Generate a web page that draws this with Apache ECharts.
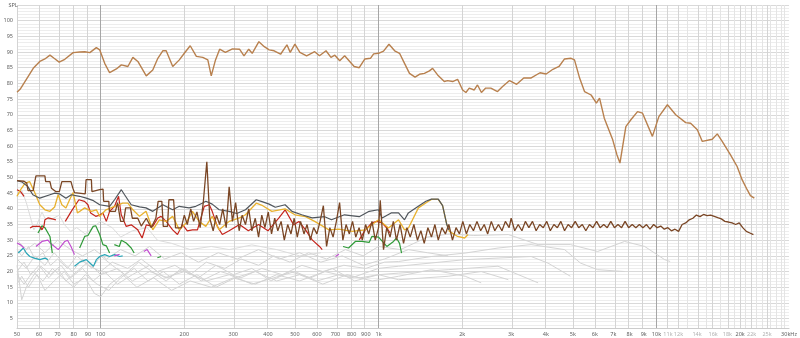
<!DOCTYPE html>
<html><head><meta charset="utf-8">
<script src="https://cdn.jsdelivr.net/npm/echarts@6/dist/echarts.min.js"></script>
<style>html,body{margin:0;padding:0;background:#fff}#c{width:800px;height:338px}</style>
</head><body><div id="c"></div><script>
// ---- axis definitions ----
const xMin = 50, xMax = 30000, yMin = 2, yMax = 105;
const xLabelFreqs = [50,60,70,80,90,100,200,300,400,500,600,700,800,900,1000,2000,3000,4000,5000,6000,7000,8000,9000,10000,11000,12000,14000,16000,18000,20000,22000,25000,30000];
const xLightLabels = [11000,12000,14000,16000,18000,22000,25000];
const xDarkGrid = [100,1000,10000];
const xMinorGrid = [13000,15000,17000,19000,21000,23000,24000,26000,27000,28000,29000];
const yLabels = [5,10,15,20,25,30,35,40,45,50,55,60,65,70,75,80,85,90,95,100];

// ---- series values: [frequency Hz, SPL dB] ----
const mainResp = [[50,77.2],[51.3,78.1],[54.1,81.4],[57.2,84.8],[60.4,87],[63,87.8],[65.7,89],[68,88],[70.9,86.8],[74.3,87.7],[79.6,89.8],[84.1,90],[87.7,90.1],[91.4,89.8],[96.5,91.4],[99.2,90.7],[103.4,86.4],[107.7,83.4],[113.9,84.6],[118.7,85.9],[125.3,85.4],[130.6,88.3],[136.1,87],[145.9,82.4],[154,84.3],[160.6,88],[167.3,90.4],[172.1,90.4],[181.7,85.4],[191.9,87.5],[200,89.6],[210,92],[221,88.6],[233,88.3],[243,87.5],[250,82.4],[259,87.5],[268,90.9],[281,89.9],[298,91],[316,90.9],[328,88.8],[341,90.9],[351,89.6],[371,93.3],[388,91.7],[404,90.7],[421,90.4],[444,89.3],[468,92.3],[481,89.9],[500,92.5],[521,89.9],[551,88.8],[589,90.1],[613,88.8],[647,90.4],[674,88.3],[696,89],[725,87.2],[755,88.8],[817,85.4],[852,85],[893,87.8],[935,88],[960,89.4],[1000,89.6],[1042,90.3],[1090,92.5],[1143,90.4],[1190,89.6],[1240,86.4],[1292,83.2],[1353,82],[1403,82.9],[1462,83.2],[1524,84],[1565,84.8],[1631,82.7],[1724,80.6],[1772,80.9],[1847,80.6],[1925,81.3],[2007,77.9],[2062,77.1],[2120,78.5],[2210,77.9],[2270,79.5],[2345,77.1],[2430,78.5],[2535,78.5],[2680,77.4],[2795,79],[2960,80.9],[3140,79.7],[3330,81.7],[3530,81.7],[3810,83.4],[4010,83],[4240,84.5],[4460,85.4],[4670,87.8],[4930,88],[5070,87.5],[5290,81.7],[5510,77.4],[5820,76.3],[6080,73.7],[6240,75.3],[6490,68.9],[6960,62],[7210,57.2],[7390,54.6],[7760,66.2],[8090,68.4],[8550,71],[8910,70.5],[9670,63.1],[10200,69.4],[10950,73.2],[11730,70],[12740,67.5],[13270,67.3],[14030,65.2],[14620,61.5],[15880,62.2],[16550,63.9],[17240,61.5],[18470,57.2],[19510,53.5],[20330,49.3],[21200,46.1],[21780,44.2],[22500,43.4]];

const brownResp = [[50,49],[53,48.8],[54.2,48.2],[54.8,45.8],[57.2,45.8],[57.8,48.2],[58.5,50.5],[63,50.5],[63.4,48.7],[65.7,48.7],[66.5,46.6],[68.9,45.5],[71,45.5],[72.5,48.7],[78.2,48.7],[79.4,46.6],[80.5,45.2],[88,44.8],[88.6,49.3],[92.6,49.3],[93,45.5],[99.2,46.1],[102,46.3],[102.5,42.4],[107,42.4],[107.5,39.2],[113,39.2],[115,42],[118,36],[121,36],[123,40.3],[128,40.3],[130,37],[136,37],[140,34.5],[146,37],[152,34],[158,37],[161,42.4],[166,42.4],[168,34.4],[174,34.4],[176,42.9],[183,42.9],[186,33.9],[195,33.9],[200,38],[205,35],[211,40],[216,36],[222,39],[228,34],[234,42],[241,55],[247,37],[254,33],[261,38],[268,35],[275,40],[283,34],[290,47],[298,36],[306,42],[315,33],[323,38],[332,35],[341,40],[350,33],[360,37],[370,31],[380,38],[390,34],[401,39],[412,32],[423,37],[434,33],[446,36],[458,30],[471,35],[484,32],[497,37],[510,31],[524,36],[539,32],[553,35],[568,30],[584,34],[600,32],[616,36],[633,41],[650,28],[668,34],[686,31],[705,36],[724,42],[744,30],[764,35],[785,32],[806,36],[828,31],[851,34],[874,30],[898,35],[922,32],[947,36],[973,30],[1000,34],[1014,42.7],[1042,27],[1070,34],[1100,31],[1130,36],[1160,30],[1195,35],[1230,29],[1265,34],[1300,31],[1340,35],[1380,30],[1420,33],[1460,29],[1505,34],[1550,31],[1595,35],[1640,30],[1690,34],[1740,32],[1790,35],[1845,30],[1900,34],[1955,32],[2010,36],[2070,32],[2130,35],[2195,33],[2260,36],[2330,33],[2400,35],[2470,32],[2545,36],[2620,33],[2700,35],[2780,33],[2860,36],[2950,34],[3000,37],[3090,33],[3180,35],[3280,33],[3375,36],[3475,34],[3580,36],[3690,33],[3800,35],[3915,34],[4030,36],[4150,33],[4275,35],[4400,34],[4530,36],[4670,33],[4810,35],[4950,34],[5100,36],[5250,34],[5410,35],[5570,33],[5740,35],[5910,34],[6090,36],[6270,34],[6460,35],[6650,34],[6850,36],[7060,34],[7270,35],[7490,34],[7710,36],[7940,34],[8180,35],[8430,34],[8680,35],[8940,34],[9210,35],[9480,33.5],[9770,35],[10060,34],[10360,34.5],[10670,33.5],[10990,34],[11320,33],[11660,33.5],[12010,32.8],[12370,35],[12740,35.5],[13120,36.5],[13520,37],[13920,38],[14340,37.5],[14770,38.2],[15210,37.8],[15670,38],[16140,37.6],[16620,37.2],[17120,36.8],[17630,36],[18160,35.8],[18710,35.5],[19270,35],[19850,35.5],[20440,34],[21050,32.8],[21680,32.3],[22330,31.8]];

const grayResp = [[50,49],[52,48.6],[54.7,47.1],[57,44.5],[60.4,43.4],[65.7,44.5],[68.3,45],[71,44.8],[75,43.4],[78.4,44.5],[84,44],[88.8,43.4],[94.2,42.6],[99.2,41.3],[107.7,40.8],[112.2,42.9],[118.7,46.1],[121.9,44.5],[128.8,41.3],[138,40.6],[145.6,40.3],[154,39.2],[167.3,41.3],[181.6,39.7],[191.8,40.8],[208,40.3],[220,40.8],[232,41.8],[239,42.4],[252,41.5],[267,39.7],[290,39.2],[309,38.5],[332,39.7],[363,42.9],[383,42.2],[404,41.5],[425,40.5],[461,41.3],[488,39.2],[529,38.1],[577,37.1],[640,37.5],[677,36.5],[754,38.1],[852,37.5],[925,39.2],[1000,39.7],[1030,37.1],[1110,38.7],[1180,38.7],[1240,36.5],[1280,38.7],[1390,40.8],[1480,42.4],[1550,43.1],[1640,43.1],[1700,41],[1760,35],[1790,33.3]];

const yellowResp = [[50,44],[51.3,45.9],[53.5,48.2],[55.5,48.7],[57.7,45.5],[60.4,41.3],[63,39.7],[65.7,39.2],[68.3,40.6],[70.3,44.5],[72.5,41.3],[75,40.3],[77.3,42.9],[79.6,45.2],[82.5,38.7],[87.6,40.3],[92.6,39.2],[96.5,39.7],[99.2,37.6],[104.5,39.7],[112.2,40.8],[120,41.8],[125.3,41.8],[130.6,39.7],[138,37.6],[145.6,39.2],[154,33.3],[162.6,36.5],[172,36],[181.6,37.6],[192,33.3],[203,35.5],[214,39.2],[226,36],[239,34.4],[252,37.6],[267,33.3],[290,36],[316,37.1],[332,38.1],[363,41.8],[383,41],[413,39.2],[461,40],[500,38.1],[546,37.5],[589,36],[663,33.3],[720,33.5],[803,32.8],[896,33.3],[1000,36.5],[1086,33.9],[1180,36.5],[1240,33.3],[1281,33.9],[1391,40.3],[1511,42.4],[1550,43],[1640,43],[1700,41],[1760,35],[1800,32.8],[1925,31.2],[2040,30.7],[2100,31.8]];

const redResp = [[50,46.1],[51.5,45.5],[53,44],[53.5,null],[55.7,33.9],[57,34.4],[60.4,34.4],[61.5,33.3],[62.5,34.5],[63,36.5],[64.6,37.1],[67.5,36.7],[69,36.5],[71,null],[74.6,36],[78.4,39.2],[83.5,42.9],[87.5,42.4],[90,41.3],[92,38.7],[96,37.6],[99.2,38],[101.9,38.7],[104.8,36],[107.7,39.2],[112.2,40.8],[116,44],[118.6,38.1],[123.6,34.4],[128.8,34.9],[136,33.3],[141,30.7],[145.9,34.9],[154,34.4],[160.6,37.1],[165,37.6],[172,36],[181.6,33.3],[189,31.8],[197,35],[205,33],[214,33.3],[223,33.3],[236,40.8],[246,41.3],[252,39.2],[263,34.4],[274,31.8],[290,33],[316,35],[340,33],[370,35],[400,33],[438,37.1],[461,39.7],[495,34.9],[517,36],[546,33.3],[577,30.1],[613,28],[627,27],[640,null],[852,30.1],[896,33.3],[946,35.5],[986,36],[1028,35.5],[1071,33.9],[1101,32.3]];

const greenResp = [[59.5,32.3],[60.4,33.3],[61.5,34.6],[63,34],[65.7,31.2],[67,25.9],[70,null],[84,27.5],[87.6,31.2],[90,31.5],[94,34.4],[96,34.6],[99.2,31.8],[101.9,28.6],[104.8,28.2],[107.7,25.9],[110,null],[112,28.6],[116.7,28],[118.7,30],[123.6,29.1],[128.8,27.5],[132,25.9],[140,null],[160,24.4],[165,24.8],[170,null],[745,28],[780,27.5],[825,29.6],[871,29.6],[925,29.3],[946,31.2],[1000,31],[1071,28],[1132,29.6],[1160,30.7],[1190,29],[1210,25.9]];

const magentaResp = [[50,29.1],[51.5,28.5],[53,27.5],[55,null],[58.5,28],[61.5,29.6],[64.6,30],[66,29],[70.4,27],[74.3,29.6],[76,30],[78.2,28],[80.5,25.4],[83,null],[112,25],[117,25.5],[120,null],[143,26.4],[147,27],[152,25],[155,null],[700,24.8],[720,25.5]];

const tealResp = [[50.5,25.9],[52.7,27.5],[54,25.9],[55.6,24.8],[57.7,24.3],[60.4,23.8],[63,24.3],[64.6,23.8],[67,null],[80.5,21.7],[84,23],[88.8,23.8],[94.2,21.7],[96.5,23.8],[99.2,24.8],[103.4,25.4],[107.7,24.8],[112.2,25.4],[117,24.8],[120,25]];

const grey1 = [[50,27],[52,25],[55,28],[58,24],[62,26],[66,22],[70,24],[76,21],[82,25],[90,22],[100,20],[110,23],[125,21],[140,24],[160,20],[185,22],[210,19],[240,23],[280,21],[320,24],[370,22],[420,25],[480,23],[560,26],[650,24],[760,27],[880,25],[1000,28],[1200,27],[1500,31],[1800,32],[2200,31.5],[2930,31.8],[3750,28.6],[4900,28.6],[6140,26.4],[7680,29.6],[9070,28],[10700,23.8],[11200,23.2]];
const grey2 = [[50,20],[53,23],[56,19],[60,22],[65,18],[70,21],[75,17],[82,20],[90,23],[100,19],[115,21],[130,17],[150,20],[175,18],[200,21],[230,17],[270,20],[320,18],[380,21],[450,19],[530,22],[630,20],[750,22],[900,21],[1050,23],[1180,23.2],[1550,24.8],[2050,25.9],[2690,27.5],[3540,28.6],[4670,27],[5330,22.7],[6140,20.6],[7680,20]];
const grey3 = [[50,16],[52,18.5],[55,15],[59,19],[63,14],[68,17],[74,20],[80,16],[88,18],[95,13],[100,12],[108,16],[120,19],[135,15],[155,18],[180,14],[210,17],[250,15],[300,18],[360,16],[430,19],[520,17],[640,20],[800,18],[1000,21],[1180,21.7],[2050,23.8],[2690,24.3],[3540,24.8],[4070,22.7],[4900,18.5]];
const grey4 = [[50,22],[52,11],[54,15],[57,18.5],[61,21.7],[66,19],[72,22],[78,18],[86,21],[94,17],[103,20],[115,16],[130,19],[150,22],[170,18],[200,20],[240,17],[290,19],[350,16],[420,18],[500,20],[600,17],[720,19],[860,18],[1000,19],[1180,19.5],[1780,20.6],[2690,21.7],[3750,16.4]];
const grey5 = [[50,24],[54,21],[58,25],[63,22],[68,26],[73,23],[79,20],[86,24],[93,21],[100,25],[110,22],[122,19],[137,23],[153,20],[172,17],[195,21],[225,18],[260,22],[300,19],[350,21],[410,17],[480,20],[570,18],[680,21],[820,17],[1000,19],[1180,17.4],[1780,18.5],[2340,20],[2930,17.4]];
const grey6 = [[50,19],[53,16],[57,20],[62,17],[67,21],[73,18],[80,15],[88,19],[97,16],[107,14],[118,18],[132,21],[148,17],[168,20],[192,16],[222,19],[260,15],[305,18],[360,20],[430,17],[520,19],[630,16],[770,19],[950,17],[1180,18.5],[1550,20.6],[2050,18.5],[2340,16.4]];
const grey7 = [[50,44],[52,46],[54,42],[56,37],[57.5,33.3],[59,35],[61.5,39],[63,37],[66,36.5],[71,38],[74,35],[78,32.8],[82,34],[88,32],[95,34.5],[100,36],[110,34],[118,31],[130,33],[147,34],[160,30],[180,29],[210,27],[250,28],[290,27],[350,28.5],[430,27],[520,25],[620,26]];
const grey8 = [[50,30],[54,27],[58,29],[63,26],[70,30],[78,27],[86,25],[95,27],[105,24],[118,27],[133,25],[150,28],[170,24],[195,26],[225,23],[265,26],[310,24],[370,27],[440,24],[520,26],[620,23],[740,25],[880,22],[1050,24],[1280,27],[1500,26],[1780,25]];

// ---- build chart ----
const L = Math.log10;
const toXY = arr => arr.map(p => [L(p[0]), p[1] === null ? '-' : p[1]]);

const gridLines = [];
for (let v = yMin; v <= yMax; v++) {
  if (v % 5 !== 0) gridLines.push({yAxis: v, lineStyle: {color: '#ededed', width: 1, type: 'solid'}});
}
for (let v = yMin; v <= yMax; v++) {
  if (v % 5 === 0) gridLines.push({yAxis: v, lineStyle: {color: '#d9d9d9', width: 1, type: 'solid'}});
}
xMinorGrid.forEach(f => gridLines.push({xAxis: L(f), lineStyle: {color: '#e4e4e4', width: 1, type: 'solid'}}));
xLabelFreqs.forEach(f => {
  if (xDarkGrid.indexOf(f) < 0) gridLines.push({xAxis: L(f), lineStyle: {color: '#d4d4d4', width: 1, type: 'solid'}});
});
xDarkGrid.forEach(f => gridLines.push({xAxis: L(f), lineStyle: {color: '#a6a6a6', width: 1, type: 'solid'}}));

function lineSeries(name, arr, color, width, z) {
  return {name, type: 'line', data: toXY(arr), symbol: 'none', showSymbol: false,
    connectNulls: false, silent: true, animation: false, z: z,
    lineStyle: {color: color, width: width, type: 'solid'}};
}

const axisFont = {fontSize: 5.5, fontFamily: 'Noto Sans', color: '#606060'};
const chart = echarts.init(document.getElementById('c'), null, {renderer: 'canvas'});
chart.setOption({
  backgroundColor: '#ffffff',
  animation: false,
  grid: {left: 17, right: 8, top: 5, bottom: 10, containLabel: false},
  xAxis: {
    type: 'value', min: L(xMin), max: L(xMax),
    axisLine: {show: true, lineStyle: {color: '#cccccc'}},
    axisTick: {show: false},
    splitLine: {show: false},
    axisLabel: Object.assign({
      customValues: xLabelFreqs.map(L),
      margin: 3,
      formatter: function (v) {
        const f = Math.round(Math.pow(10, v));
        let s = f >= 1000 ? (f / 1000) + 'k' : String(f);
        if (f === 30000) s = '30kHz';
        return xLightLabels.indexOf(f) >= 0 ? '{l|' + s + '}' : s;
      },
      rich: {l: {color: '#b0b0b0', fontSize: 5.5, fontFamily: 'Noto Sans'}}
    }, axisFont)
  },
  yAxis: {
    type: 'value', min: yMin, max: yMax,
    name: 'SPL', nameLocation: 'end', nameGap: 0,
    nameTextStyle: {fontSize: 5.5, fontFamily: 'Noto Sans', color: '#606060', align: 'center', verticalAlign: 'middle', padding: [0, 8, 0, 0]},
    axisLine: {show: false}, axisTick: {show: false}, splitLine: {show: false},
    axisLabel: Object.assign({customValues: yLabels, margin: 4}, axisFont)
  },
  series: [
    {type: 'line', data: [], z: 0, silent: true, animation: false,
     markLine: {silent: true, z: 0, symbol: 'none', animation: false, label: {show: false}, data: gridLines}},
    lineSeries('g1', grey1, '#d4d4d4', 1, 2),
    lineSeries('g2', grey2, '#d4d4d4', 1, 2),
    lineSeries('g3', grey3, '#d4d4d4', 1, 2),
    lineSeries('g4', grey4, '#d4d4d4', 1, 2),
    lineSeries('g5', grey5, '#d4d4d4', 1, 2),
    lineSeries('g6', grey6, '#d4d4d4', 1, 2),
    lineSeries('g7', grey7, '#dcdcdc', 1, 2),
    lineSeries('g8', grey8, '#d4d4d4', 1, 2),
    lineSeries('teal', tealResp, '#2aa6b8', 1.2, 3),
    lineSeries('magenta', magentaResp, '#c24fd0', 1.2, 3),
    lineSeries('green', greenResp, '#2f9a38', 1.2, 3),
    lineSeries('red', redResp, '#c4241c', 1.2, 4),
    lineSeries('yellow', yellowResp, '#e8b12f', 1.3, 4),
    lineSeries('gray', grayResp, '#50565c', 1.2, 5),
    lineSeries('brown', brownResp, '#7a4625', 1.3, 6),
    lineSeries('main', mainResp, '#b8804e', 1.4, 7)
  ]
});
</script></body></html>
